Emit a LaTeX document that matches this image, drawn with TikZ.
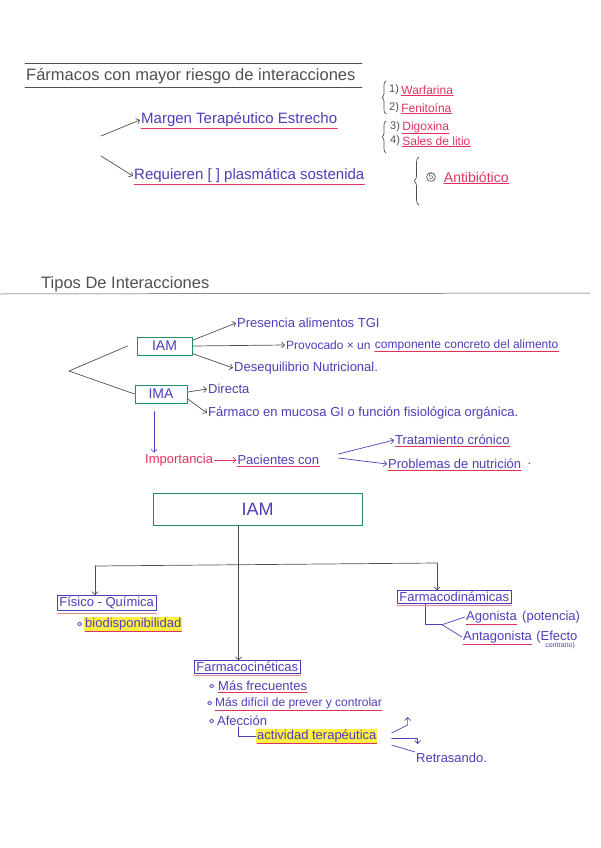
\documentclass[tikz,border=0pt]{standalone}
\usepackage{fontspec}
\setmainfont{Liberation Sans}
\usetikzlibrary{arrows.meta, calc, positioning, decorations.pathreplacing}
\definecolor{inkblue}{RGB}{80,60,185}
\definecolor{inkred}{RGB}{225,50,95}
\definecolor{inkgreen}{RGB}{30,140,110}
\definecolor{inkgray}{RGB}{80,80,80}
\definecolor{marker}{RGB}{255,240,70}

\tikzset{
	note/.style={anchor=west, inner sep=1pt, text=inkblue, font=\fontsize{13}{15}\selectfont},
	rednote/.style={note, text=inkred},
	numnote/.style={note, text=inkgray, font=\fontsize{11}{13}\selectfont},
	head/.style={anchor=west, inner sep=1pt, text=inkgray, font=\fontsize{16.5}{18}\selectfont},
	uline/.style={inkred, line width=0.7pt},
	pen/.style={inkgray, line width=0.7pt},
	bluepen/.style={inkblue, line width=0.7pt},
	greenbox/.style={draw=inkgreen, line width=1pt, text=inkblue, inner sep=1pt, font=\fontsize{14}{16}\selectfont},
	tabbox/.style={note, draw=inkblue, line width=0.7pt, inner xsep=2pt, inner ysep=1.5pt},
	marked/.style={note, fill=marker},
	bullet/.style={circle, draw=inkblue, line width=0.7pt, inner sep=1.4pt},
	curly/.style={pen, decorate, decoration={brace, amplitude=4pt}},
}

\begin{document}
\begin{tikzpicture}[x=1pt, y=-1pt, line cap=round, line join=round, >={Straight Barb[length=3pt]}]
	\useasboundingbox (0,0) rectangle (600,848);

	% farmacos con mayor riesgo
	\node[head] (farm) at (25,76) {Fármacos con mayor riesgo de interacciones};
	\draw [pen] (25,63) -- (362,63);
	\draw [pen] (25,87) -- (362,87);

	\coordinate (o1) at (101,136);
	\coordinate (o2) at (101,156);
	\node[note, font=\fontsize{15}{17}\selectfont] (mte) at (140,120) {Margen Terapéutico Estrecho};
	\node[note, font=\fontsize{15}{17}\selectfont] (req) at (133,176) {Requieren [ ] plasmática sostenida};
	\draw [pen,->] (o1) -- (mte.west);
	\draw [pen,->] (o2) -- (req.west);

	\node[numnote] (n1) at (388,90) {1)};
	\node[rednote, font=\fontsize{12}{14}\selectfont, right=0pt of n1] (war) {Warfarina};
	\node[numnote] (n2) at (388,108) {2)};
	\node[rednote, font=\fontsize{12}{14}\selectfont, right=0pt of n2] (fen) {Fenitoína};
	\node[numnote] (n3) at (389,127) {3)};
	\node[rednote, font=\fontsize{12}{14}\selectfont, right=0pt of n3] (dig) {Digoxina};
	\node[numnote] (n4) at (389,141) {4)};
	\node[rednote, font=\fontsize{12}{14}\selectfont, right=0pt of n4] (sal) {Sales de litio};
	\draw [curly] (386,114) -- (386,81);
	\draw [curly] (386,153) -- (386,121);

	\node[circle, draw=inkgray, line width=0.7pt, inner sep=0.6pt, text=inkgray, font=\fontsize{8}{9}\selectfont] (c5) at (431,177) {5};
	\node[rednote, font=\fontsize{14}{16}\selectfont, right=7pt of c5] (anti) {Antibiótico};
	\draw [curly, decoration={amplitude=5pt}] (419,205) -- (419,157);

	% tipos de interacciones
	\node[head] (tipos) at (40,284) {Tipos De Interacciones};
	\draw [pen, line width=0.5pt] (0,294) -- (590,293);

	\node[greenbox, minimum width=55pt, minimum height=18pt] (iam) at (164.5,346) {IAM};
	\node[greenbox, minimum width=52pt, minimum height=18pt] (ima) at (161,394) {IMA};
	\coordinate (split) at (69,371);
	\draw [pen] (split) -- ([xshift=-9pt]iam.west);
	\draw [pen] (split) -- (ima.west);

	\node[note] (pres) at (236,323) {Presencia alimentos TGI};
	\node[note, font=\fontsize{12}{14}\selectfont] (prov) at (285,345) {Provocado × un};
	\node[note, font=\fontsize{12}{14}\selectfont, right=2pt of prov] (comp) {componente concreto del alimento};
	\node[note] (deseq) at (233,368) {Desequilibrio Nutricional.};
	\draw [pen,->] ($(iam.north east)!0.2!(iam.south east)$) -- (pres.west);
	\draw [pen,->] (iam.east) -- (prov.west);
	\draw [pen,->] ($(iam.north east)!0.9!(iam.south east)$) -- (deseq.west);

	\node[note] (dir) at (207,389) {Directa};
	\node[note] (muc) at (207,413) {Fármaco en mucosa GI o función fisiológica orgánica.};
	\draw [pen,->] ($(ima.north east)!0.4!(ima.south east)$) -- (dir.west);
	\draw [pen,->] ($(ima.north east)!0.75!(ima.south east)$) -- (muc.west);

	\node[rednote] (imp) at (144,460) {Importancia};
	\node[note, right=22pt of imp] (pac) {Pacientes con};
	\node[note] (trat) at (394,440) {Tratamiento crónico};
	\node[note] (prob) at (387,464) {Problemas de nutrición};
	\node[note, right=4pt of prob] (pdot) {.};
	\coordinate (ib) at ($(ima.south)+(-7,8)$);
	\draw [bluepen,->] (ib) -- (ib |- imp.north);
	\draw [inkred, line width=0.7pt, ->] (imp.east) -- (pac.west);
	\coordinate (pc1) at ($(pac.east)+(18,-6)$);
	\coordinate (pc2) at ($(pac.east)+(18,-2)$);
	\draw [bluepen,->] (pc1) -- (trat.west);
	\draw [bluepen,->] (pc2) -- (prob.west);

	% IAM
	\node[greenbox, minimum width=209pt, minimum height=32pt, font=\fontsize{18}{20}\selectfont] (iam2) at (257.5,509) {IAM};
	\coordinate (st) at ($(iam2.south)+(-19,0)$);
	\coordinate (hl) at (95,566);
	\coordinate (hr) at (437,563);

	\node[tabbox] (fq) at (57,603) {Físico - Química};
	\node[marked] (bio) at (84,624) {biodisponibilidad};
	\node[bullet, left=2pt of bio] (b0) {};

	\node[tabbox] (fcin) at (194,667) {Farmacocinéticas};
	\node[note] (freq) at (217,686) {Más frecuentes};
	\node[bullet, left=3pt of freq] (b1) {};
	\node[note, font=\fontsize{12}{14}\selectfont] (dif) at (214,703) {Más difícil de prever y controlar};
	\node[bullet, left=2pt of dif] (b2) {};
	\node[note] (afe) at (216,721) {Afección};
	\node[bullet, left=2pt of afe] (b3) {};
	\node[marked] (act) at (256,736) {actividad terapéutica};
	\node[note] (retr) at (415,758) {Retrasando.};

	\node[tabbox] (fdin) at (397,597) {Farmacodinámicas};
	\node[note] (ago) at (465,617) {Agonista};
	\node[note, right=3pt of ago] (pot) {(potencia)};
	\node[note] (ant) at (462,637) {Antagonista};
	\node[note, right=2pt of ant] (efe) {(Efecto};
	\node[note, anchor=north west, font=\fontsize{7}{8}\selectfont] (contr) at ($(efe.south west)+(9,-3)$) {contrario)};

	\draw [pen,->] (st) -- (st |- fcin.north);
	\draw [pen] (hl) -- (hr);
	\draw [pen,->] (hl) -- (hl |- fq.north);
	\draw [pen,->] (hr) -- (hr |- fdin.north);

	\coordinate (brk) at ($(fdin.south west)+(28,21)$);
	\draw [bluepen] ($(fdin.south west)+(28,0)$) |- ($(brk)+(17,0)$);
	\draw [bluepen] ($(brk)+(17,0)$) -- (ago.west);
	\draw [bluepen] ($(brk)+(17,0)$) -- (ant.west);

	\draw [bluepen] ($(afe.south west)+(22,0)$) |- (act.west);
	\coordinate (a1) at ($(act.east)+(14,-3)$);
	\coordinate (a2) at ($(act.east)+(14,2)$);
	\coordinate (a3) at ($(act.east)+(14,9)$);
	\draw [bluepen,->] (a1) -- ++(16,-8) -- ++(0,-8);
	\draw [bluepen,->] (a2) -- ++(26,0) -- ++(0,6);
	\draw [bluepen] (a3) -- (retr.north west);

	% underlines
	\foreach \n in {mte, req, war, fen, dig, sal, anti, comp, pac, trat, prob, bio, act, ago, ant, freq, dif}
		\draw [uline] ($(\n.south west)+(1,0)$) -- ($(\n.south east)+(-1,0)$);
	\foreach \n in {fq, fcin, fdin}
		\draw [uline, inkred!60] ($(\n.south west)+(0,2)$) -- ($(\n.south east)+(0,2)$);
\end{tikzpicture}
\end{document}
